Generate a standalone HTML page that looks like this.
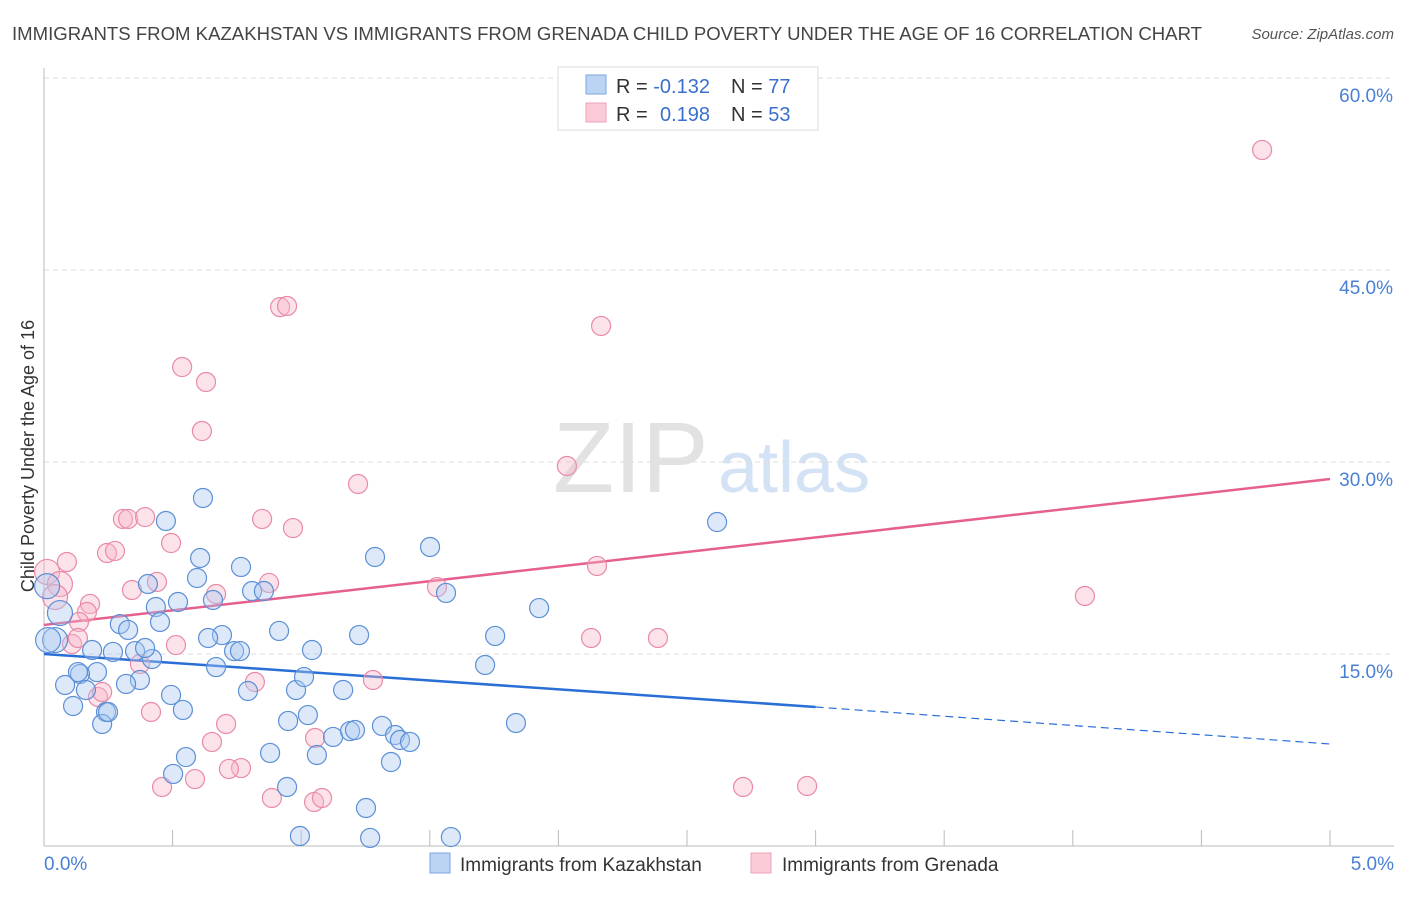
<!DOCTYPE html>
<html><head><meta charset="utf-8"><style>
body{margin:0;background:#fff;font-family:"Liberation Sans",sans-serif;}
svg text{font-family:"Liberation Sans",sans-serif;}
</style></head><body>
<svg id="chart" width="1406" height="892" xmlns="http://www.w3.org/2000/svg">
<text x="12" y="40" font-size="18" fill="#444" textLength="1190" lengthAdjust="spacingAndGlyphs">IMMIGRANTS FROM KAZAKHSTAN VS IMMIGRANTS FROM GRENADA CHILD POVERTY UNDER THE AGE OF 16 CORRELATION CHART</text>
<text x="1394" y="39" font-size="15" font-style="italic" fill="#555" text-anchor="end">Source: ZipAtlas.com</text>
<g>
<text x="553" y="492" font-size="100" font-family="Liberation Serif" fill="#e2e2e2">ZIP</text>
<text x="718" y="492" font-size="72" fill="#d3e2f4">atlas</text>
</g>
<g id="grid"></g>
<g id="axes"></g>
<g id="lines"></g>
<g id="points"></g>
<text x="34" y="456" font-size="18" fill="#333" text-anchor="middle" transform="rotate(-90 34 456)">Child Poverty Under the Age of 16</text>
<g>
<rect x="558" y="67" width="260" height="63" fill="#fff" stroke="#ddd"/>
<rect x="586" y="75" width="20" height="19" fill="#bcd4f4" stroke="#7aa6e0"/>
<rect x="586" y="103" width="20" height="19" fill="#fbcbd8" stroke="#eea0b8"/>
<text x="616" y="93" font-size="20" fill="#333">R = <tspan fill="#3a70cc">-0.132</tspan></text>
<text x="731" y="93" font-size="20" fill="#333">N = <tspan fill="#3a70cc">77</tspan></text>
<text x="616" y="121" font-size="20" fill="#333">R = <tspan fill="#3a70cc" x="660">0.198</tspan></text>
<text x="731" y="121" font-size="20" fill="#333">N = <tspan fill="#3a70cc">53</tspan></text>
</g>
<g>
<rect x="430" y="853" width="20" height="20" fill="#bcd4f4" stroke="#7aa6e0"/>
<text x="460" y="871" font-size="19" fill="#333">Immigrants from Kazakhstan</text>
<rect x="751" y="853" width="20" height="20" fill="#fbcbd8" stroke="#eea0b8"/>
<text x="782" y="871" font-size="19" fill="#333">Immigrants from Grenada</text>
</g>
</svg>
<script>
const yTicks=[15,30,45,60];
const yTickLabels=["15.0%","30.0%","45.0%","60.0%"];
const xTicks=[0,0.5,1,1.5,2,2.5,3,3.5,4,4.5,5];
const kazX=[0.474,0.618,0.607,0.595,0.404,0.435,0.521,0.451,0.295,0.327,0.657,0.766,0.809,0.855,0.914,0.692,0.638,0.739,0.762,0.669,0.793,0.980,1.011,1.042,0.949,1.026,1.061,0.879,0.945,0.552,0.502,0.494,0.540,0.373,0.319,0.206,0.241,0.187,0.268,0.354,0.420,0.393,0.140,0.132,0.082,0.113,0.163,0.226,0.249,0.062,0.043,0.016,0.012,1.287,1.225,1.163,1.124,1.190,1.209,1.314,1.365,1.384,1.423,1.349,1.252,1.501,1.563,1.754,1.715,1.925,1.835,2.617,0.995,1.268,1.582];
const kazY=[25.39,27.19,22.5,20.94,20.47,18.67,19.06,17.5,17.34,16.88,19.22,21.8,19.92,19.92,16.8,16.48,16.25,15.23,15.23,13.98,12.11,12.19,13.2,15.31,9.77,10.23,7.11,7.27,4.61,6.95,5.63,11.8,10.63,12.97,12.66,13.59,10.47,15.31,15.16,15.23,14.61,15.47,13.44,13.59,12.58,10.94,12.19,9.53,10.47,18.2,16.09,16.09,20.3,22.58,16.48,12.19,8.52,8.98,9.06,9.38,8.67,8.28,8.13,6.56,2.97,23.36,19.77,16.41,14.14,18.59,9.61,25.31,0.78,0.63,0.7];
const greX=[4.736,0.918,0.945,2.166,0.537,0.630,0.614,1.221,2.033,0.307,0.327,0.393,0.848,0.968,0.494,0.245,0.276,0.089,0.012,0.062,0.043,0.342,0.439,0.875,0.669,1.528,2.150,0.179,0.167,0.136,0.109,0.132,0.513,0.373,0.416,0.210,0.226,0.820,1.279,0.708,0.653,0.766,0.719,1.054,0.459,0.587,0.886,1.050,1.081,2.127,2.387,4.047,2.718,2.967];
const greY=[54.38,42.1,42.19,40.63,37.42,36.25,32.42,28.28,29.69,25.55,25.55,25.7,25.55,24.84,23.67,22.89,23.05,22.19,21.41,20.47,19.45,20.0,20.63,20.55,19.69,20.23,21.88,18.91,18.28,17.5,15.78,16.25,15.7,14.22,10.47,11.64,12.03,12.81,12.97,9.53,8.13,6.09,6.02,8.44,4.61,5.23,3.75,3.44,3.75,16.25,16.25,19.53,4.61,4.69];
const kazTrend=[15.0,10.86,7.97]; // at x=0,3,5
const greTrend=[17.27,28.67]; // at x=0,5
const NS="http://www.w3.org/2000/svg";
const sx=v=>44+v/5*1286, sy=v=>846-v/15*192;
function mk(tag,attrs,parent){const e=document.createElementNS(NS,tag);for(const k in attrs)e.setAttribute(k,attrs[k]);parent.appendChild(e);return e;}
const grid=document.getElementById('grid'),axes=document.getElementById('axes'),lines=document.getElementById('lines'),pts=document.getElementById('points');
yTicks.forEach((t,i)=>{
 const l=mk('line',{x1:44,x2:1394,y1:sy(t),y2:sy(t),stroke:'#ddd','stroke-dasharray':'5,4'},grid);
 
 const tx=mk('text',{x:1393,y:sy(t)+24,'font-size':19,fill:'#4a7fd4','text-anchor':'end'},axes);
 tx.textContent=yTickLabels[i];
 
});
mk('line',{x1:44,x2:44,y1:68,y2:846,stroke:'#bbb'},axes);
mk('line',{x1:44,x2:1394,y1:846,y2:846,stroke:'#bbb'},axes);
xTicks.forEach(t=>{const l=mk('line',{x1:sx(t),x2:sx(t),y1:830,y2:846,stroke:'#bbb'},axes);
 });
let t0=mk('text',{x:44,y:870,'font-size':19,fill:'#4a7fd4'},axes);t0.textContent='0.0%';

let t1=mk('text',{x:1394,y:870,'font-size':19,fill:'#4a7fd4','text-anchor':'end'},axes);t1.textContent='5.0%';

function dot(x,y,fill,stroke){const r=x<0.07?12.5:9.5;const c=mk('circle',{cx:sx(x),cy:sy(y),r:r,fill:fill,'fill-opacity':0.4,stroke:stroke,'stroke-width':1.2},pts);return c;}
greX.forEach((x,i)=>{const c=dot(x,greY[i],'#f7b6c9','#e98aa8');
 });
kazX.forEach((x,i)=>{const c=dot(x,kazY[i],'#a9c8f0','#5b8fd6');
 });
let a=mk('line',{x1:sx(0),y1:sy(kazTrend[0]),x2:sx(3),y2:sy(kazTrend[1]),stroke:'#2a6fd6','stroke-width':2.5},lines);

let b=mk('line',{x1:sx(3),y1:sy(kazTrend[1]),x2:sx(5),y2:sy(kazTrend[2]),stroke:'#2a6fd6','stroke-width':1.2,'stroke-dasharray':'8,5'},lines);

let p=mk('line',{x1:sx(0),y1:sy(greTrend[0]),x2:sx(5),y2:sy(greTrend[1]),stroke:'#e5608f','stroke-width':2.5},lines);

</script>
</body></html>
